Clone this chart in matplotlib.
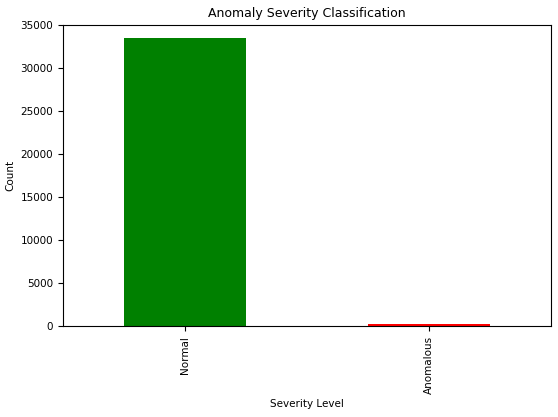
import matplotlib
matplotlib.use("Agg")
import matplotlib.pyplot as plt

categories = ["Normal", "Anomalous"]
counts = [33500, 250]
colors = ["green", "red"]

plt.rcParams["font.size"] = 7.5
fig = plt.figure(figsize=(5.58, 4.17), dpi=100)
ax = fig.add_axes([63/558, 1-326/417, (551-63)/558, (326-25)/417])
ax.bar(range(len(categories)), counts, width=0.5, color=colors)
ax.set_xticks(range(len(categories)))
ax.set_xticklabels(categories, rotation=90)
ax.set_xlim(-0.5, 1.5)
ax.set_ylim(0, 35000)
ax.set_title("Anomaly Severity Classification", fontsize=9)
ax.set_xlabel("Severity Level")
ax.set_ylabel("Count")
fig.savefig("out.png", dpi=100)
